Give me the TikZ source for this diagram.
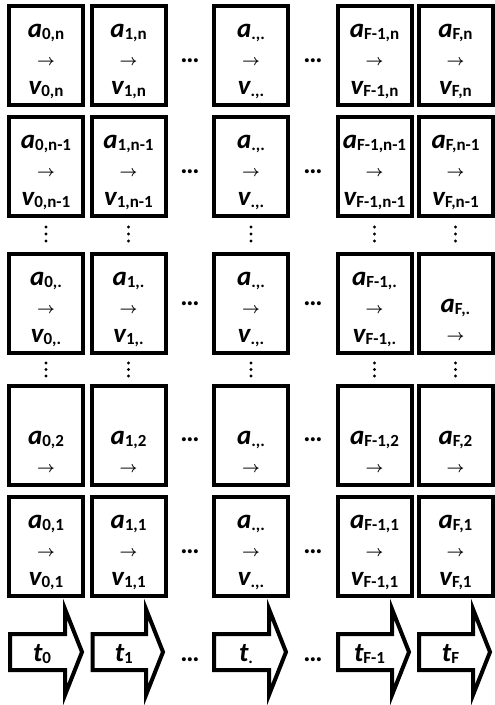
\documentclass[tikz,border=0pt]{standalone}
\usepackage{graphicx}
\usepackage{fontspec}
\setmainfont{Carlito}

\newcommand{\sym}[2]{{\fontsize{27}{27}\selectfont\bfseries\itshape #1}\raisebox{-2pt}{\fontsize{17}{17}\selectfont\bfseries #2}}
\newcommand{\goes}{\scalebox{1.55}{\boldmath$\rightarrow$}}
\newcommand{\hdots}{{\fontsize{27}{27}\selectfont\bfseries …}}

\tikzset{
  cellbox/.style={draw, line width=4pt, minimum width=74pt, minimum height=99pt, inner sep=0pt},
  txt/.style={anchor=base, inner sep=0pt},
  timearrow/.style={draw, line width=4pt, line join=miter},
}

\begin{document}
\begin{tikzpicture}[x=1pt, y=-1pt]
  \useasboundingbox (0,0) rectangle (495,705);

  % grid of cells
  \foreach \c/\x/\cl in {0/46/0, 1/128.5/1, 2/251/{.}, 3/374.5/F-1, 4/455.5/F} {
    \foreach \r/\y/\rl in {0/55.5/n, 1/166.5/n-1, 2/303/{.}, 3/435/2, 4/546.5/1} {
      \node[cellbox] (box-\c-\r) at (\x,\y) {};
      \def\sub{\ifnum\c=2 .,.\else\cl,\rl\fi}
      \pgfmathtruncatemacro{\short}{(\r==3) || (\c==4 && \r==2)}
      \ifnum\short=1
        \node[txt] (a-\c-\r) at (\x,\y+9) {\sym{a}{\sub}};
        \node[txt] (go-\c-\r) at (\x,\y+37) {\goes};
      \else
        \node[txt] (a-\c-\r) at (\x,\y-18) {\sym{a}{\sub}};
        \node[txt] (go-\c-\r) at (\x,\y+10) {\goes};
        \node[txt] (v-\c-\r) at (\x,\y+39) {\sym{v}{\sub}};
      \fi
    }
  }

  % dots between columns
  \foreach \r/\y in {0/60.5, 1/171.5, 2/304, 3/440, 4/551.5, 5/660} {
    \node (dl-\r) at (190,\y) {\hdots};
    \node (dr-\r) at (313,\y) {\hdots};
  }

  % dots between rows
  \foreach \x in {46, 128.5, 251, 374.5, 455.5} {
    \foreach \y in {227, 234, 241, 363, 369.5, 376} {
      \fill (\x,\y) circle (1.7);
    }
  }

  % time arrows
  \foreach \c/\l/\r/\tl in {0/10/82/0, 1/92.5/163/1, 2/214/286/{.}, 3/338/409/F-1, 4/419/490/F} {
    \draw[timearrow] (\l,634) -- (\r-17,634) -- (\r-17,609) -- (\r,652)
      -- (\r-17,695) -- (\r-17,670) -- (\l,670) -- cycle;
    \node[txt] (t-\c) at ({(\l+\r)/2-4},661) {\sym{t}{\tl}};
  }
\end{tikzpicture}
\end{document}
